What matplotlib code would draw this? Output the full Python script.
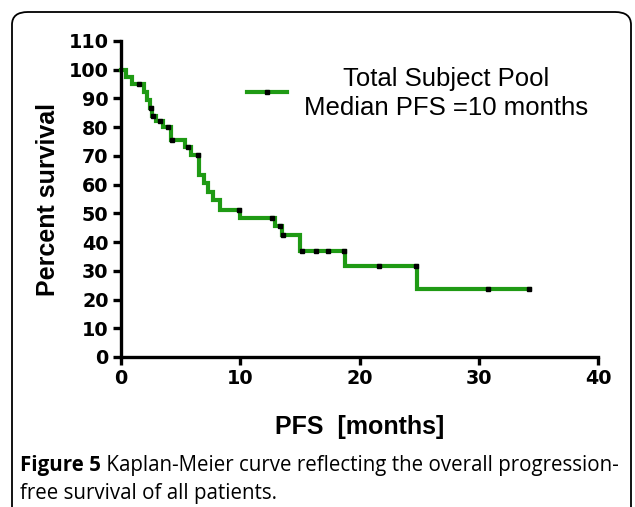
import matplotlib
matplotlib.use("Agg")
import matplotlib.pyplot as plt
from matplotlib.patches import FancyBboxPatch
from matplotlib.lines import Line2D
import numpy as np

# Step function data (time in months, survival % after the drop)
event_times = [0.0, 0.45, 0.9, 1.9, 2.2, 2.4, 2.6, 2.9, 3.5, 4.2, 5.4, 5.9, 6.5, 6.55,
               7.0, 7.3, 7.7, 8.3, 10.0, 12.9, 13.5, 15.0, 18.8, 24.8]
survival = [100.0, 97.4, 94.9, 92.2, 89.5, 86.8, 84.0, 82.0, 79.9, 75.4, 73.0, 70.3, 67.5,
            63.5, 60.5, 57.5, 54.5, 51.3, 48.4, 45.5, 42.5, 36.9, 31.6, 23.7]
end_time = 34.3

censor_times = [1.5, 2.5, 2.7, 3.3, 3.97, 4.3, 5.6, 6.45, 9.9, 12.7, 13.3, 13.6,
                15.15, 16.35, 17.4, 18.7, 21.6, 24.7, 30.8, 34.2]

x_ticks = [0, 10, 20, 30, 40]
y_ticks = list(range(0, 111, 10))

legend_lines = ["Total Subject Pool", "Median PFS =10 months"]
x_label = "PFS  [months]"
y_label = "Percent survival"
caption_bold = "Figure 5"
caption_rest = " Kaplan-Meier curve reflecting the overall progression-"
caption_line2 = "free survival of all patients."

green = "#1f9a14"

fig = plt.figure(figsize=(6.35, 5.07), dpi=100)
W, H = 635, 507

# rounded frame
frame = FancyBboxPatch((12 / W, -20 / H), (631 - 12) / W, (H - 12 + 20) / H,
                       boxstyle="round,pad=0,rounding_size=0.025",
                       transform=fig.transFigure, fill=False, lw=1.3,
                       edgecolor="black", clip_on=False)
fig.patches.append(frame)

ax = fig.add_axes([121 / W, 1 - 357 / H, (598 - 121) / W, (357 - 41) / H])

xs = list(event_times) + [end_time]
ys = list(survival) + [survival[-1]]
ax.step(xs, ys, where="post", color=green, lw=3.0, clip_on=False,
        solid_joinstyle="miter", zorder=2)

def surv_at(t):
    idx = np.searchsorted(event_times, t, side="right") - 1
    return survival[idx]

cy = [surv_at(t) for t in censor_times]
ax.plot(censor_times, cy, linestyle="none", marker="s", ms=3.2,
        color="black", zorder=3, clip_on=False)

ax.set_xlim(0, 40)
ax.set_ylim(0, 110)
ax.set_xticks(x_ticks)
ax.set_yticks(y_ticks)
for s in ["top", "right"]:
    ax.spines[s].set_visible(False)
for s in ["left", "bottom"]:
    ax.spines[s].set_linewidth(2.4)
ax.tick_params(axis="both", which="major", direction="out", length=6, width=2.4,
               pad=3)
for lab in ax.get_xticklabels() + ax.get_yticklabels():
    lab.set_fontfamily("DejaVu Sans")
    lab.set_fontweight("bold")
    lab.set_fontsize(13.8)

ax.set_xlabel(x_label, fontfamily="Liberation Sans", fontweight="bold",
              fontsize=18, labelpad=19)
ax.set_ylabel(y_label, fontfamily="Liberation Sans", fontweight="bold",
              fontsize=18, labelpad=6)

# legend sample (line with censor mark) and two-line centred text
ax.add_line(Line2D([247 / W, 287 / W], [1 - 92 / H, 1 - 92 / H],
                   transform=fig.transFigure, color=green, lw=3.0))
ax.add_line(Line2D([267 / W], [1 - 92 / H], transform=fig.transFigure,
                   marker="s", ms=3.2, color="black", linestyle="none"))
fig.text(446 / W, 1 - 79 / H, legend_lines[0], fontfamily="Liberation Sans",
         fontsize=18.5, ha="center", va="center")
fig.text(446 / W, 1 - 108 / H, legend_lines[1], fontfamily="Liberation Sans",
         fontsize=18.5, ha="center", va="center")

# caption
cap_size = 14.8
t1 = fig.text(20 / W, 1 - 466 / H, caption_bold, fontfamily="Open Sans",
              fontweight="bold", fontsize=cap_size, va="center", ha="left")
fig.canvas.draw()
bb = t1.get_window_extent(fig.canvas.get_renderer())
fig.text(bb.x1 / W, 1 - 466 / H, caption_rest,
         fontfamily="Open Sans", fontsize=cap_size, va="center", ha="left")
fig.text(20 / W, 1 - 493 / H, caption_line2,
         fontfamily="Open Sans", fontsize=cap_size, va="center", ha="left")

fig.savefig("out.png", dpi=100)
